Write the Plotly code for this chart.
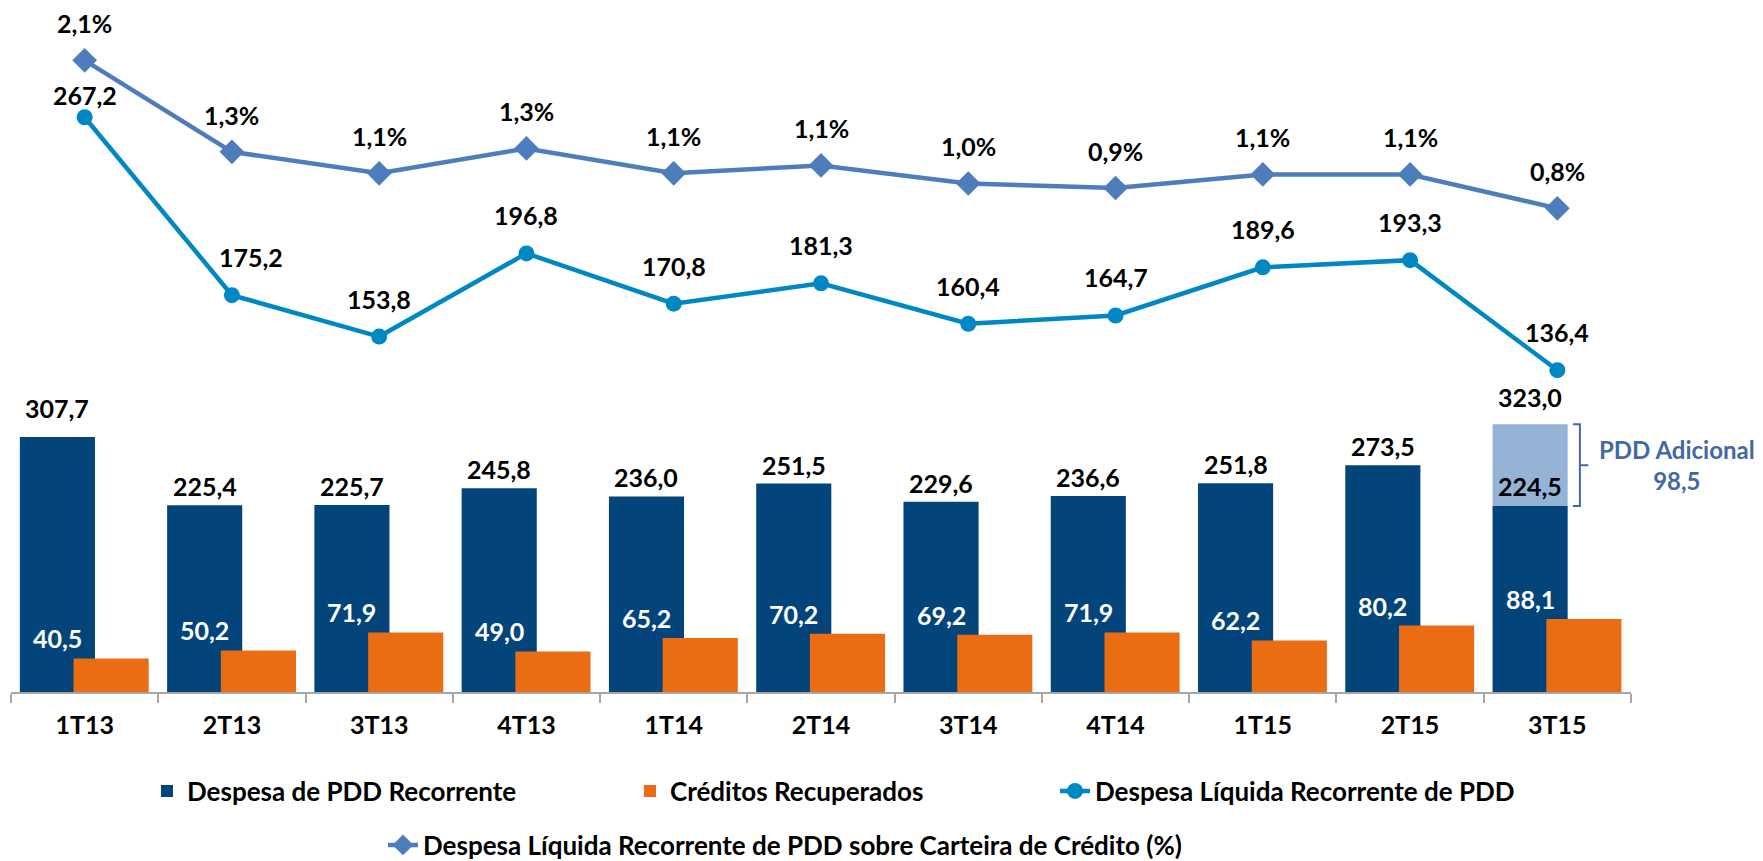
import plotly.graph_objects as go

# ---------------- data ----------------
categorias = ["1T13", "2T13", "3T13", "4T13", "1T14", "2T14", "3T14", "4T14", "1T15", "2T15", "3T15"]
despesa_pdd_recorrente = [307.7, 225.4, 225.7, 245.8, 236.0, 251.5, 229.6, 236.6, 251.8, 273.5, 224.5]
pdd_adicional_cat = ["3T15"]
pdd_adicional = [98.5]
creditos_recuperados = [40.5, 50.2, 71.9, 49.0, 65.2, 70.2, 69.2, 71.9, 62.2, 80.2, 88.1]
despesa_liquida = [267.2, 175.2, 153.8, 196.8, 170.8, 181.3, 160.4, 164.7, 189.6, 193.3, 136.4]
pct_carteira = [2.07, 1.26, 1.07, 1.29, 1.07, 1.14, 0.98, 0.94, 1.06, 1.06, 0.76]

# ---------------- styles ----------------
FONT = "Lato"
C_NAVY = "#03457A"
C_ORANGE = "#EA6C13"
C_LIGHT = "#95B3D7"
C_LINE = "#0088C4"
C_PCT = "#4E7DBC"
C_NOTE = "#4169A6"

# the page body has an 8px default margin: size the figure so it fits the window
BODY = 8
WIN_W, WIN_H = 1763, 861
W, H = WIN_W - BODY, WIN_H - BODY
# plot area in page pixels
P_LEFT, P_RIGHT, P_TOP, P_BOTTOM = 11, 1631, BODY, 692
ML = P_LEFT - BODY
MR = W - (P_RIGHT - BODY)
MT = P_TOP - BODY
MB = H - (P_BOTTOM - BODY)
PW = P_RIGHT - P_LEFT
PH = P_BOTTOM - P_TOP
CATW = PW / len(categorias)

BW = 0.51
OFF_NAVY = -0.44
OFF_ORANGE = -0.075
NAVY_CENTER_SHIFT = (OFF_NAVY + BW / 2) * CATW  # px

LAB_SIZE = 25

# axis scales (pixels per unit) and reference pixel anchors (page pixels)
BAR_PX_PER_UNIT = 0.8287
LINE_PX_PER_UNIT, LINE_ZERO_PX = 1.934, 634.0
PCT_PX_PER_UNIT, PCT_REF_VAL, PCT_REF_PX = 113.0, 0.94, 188.0

def br(v, dec=1):
    return f"{v:.{dec}f}".replace(".", ",")

def px_x(px):
    return (px - P_LEFT) / PW

def px_y(py):
    return (P_BOTTOM - py) / PH

fig = go.Figure()

fig.add_trace(go.Bar(
    x=categorias, y=despesa_pdd_recorrente, name="Despesa de PDD Recorrente",
    marker=dict(color=C_NAVY, line=dict(width=0)), offset=OFF_NAVY, width=BW,
    legend="legend", hoverinfo="skip"))
fig.add_trace(go.Bar(
    x=pdd_adicional_cat, y=pdd_adicional,
    base=[despesa_pdd_recorrente[categorias.index(c)] for c in pdd_adicional_cat],
    name="PDD Adicional", showlegend=False,
    marker=dict(color=C_LIGHT, line=dict(width=0)), offset=OFF_NAVY, width=BW,
    hoverinfo="skip"))
fig.add_trace(go.Bar(
    x=categorias, y=creditos_recuperados, name="Créditos Recuperados",
    marker=dict(color=C_ORANGE, line=dict(width=0)), offset=OFF_ORANGE, width=BW,
    legend="legend2", hoverinfo="skip"))
fig.add_trace(go.Scatter(
    x=categorias, y=despesa_liquida, yaxis="y2", mode="lines+markers",
    name="Despesa Líquida Recorrente de PDD",
    line=dict(color=C_LINE, width=4.5), marker=dict(symbol="circle", size=16, color=C_LINE),
    legend="legend3", hoverinfo="skip"))
fig.add_trace(go.Scatter(
    x=categorias, y=pct_carteira, yaxis="y3", mode="lines+markers",
    name="Despesa Líquida Recorrente de PDD sobre Carteira de Crédito (%)",
    line=dict(color=C_PCT, width=4.5), marker=dict(symbol="diamond", size=19, color=C_PCT),
    legend="legend4", hoverinfo="skip"))

ann = []
lab_font = dict(family=FONT, size=LAB_SIZE, color="black", weight="bold")
white_font = dict(family=FONT, size=LAB_SIZE, color="white", weight="bold")

# labels on the Despesa de PDD bars
for i, (c, v) in enumerate(zip(categorias, despesa_pdd_recorrente)):
    if c in pdd_adicional_cat:
        total = v + pdd_adicional[pdd_adicional_cat.index(c)]
        ann.append(dict(x=c, y=v, xref="x", yref="y", text=br(v), showarrow=False,
                        xshift=NAVY_CENTER_SHIFT, yshift=20, font=lab_font))
        ann.append(dict(x=c, y=total, xref="x", yref="y", text=br(total), showarrow=False,
                        xshift=NAVY_CENTER_SHIFT, yshift=27, font=lab_font))
    else:
        ys = 29 if i == 0 else 19
        ann.append(dict(x=c, y=v, xref="x", yref="y", text=br(v), showarrow=False,
                        xshift=NAVY_CENTER_SHIFT, yshift=ys, font=lab_font))

# white labels for Créditos Recuperados (drawn over the navy bars)
for c, v in zip(categorias, creditos_recuperados):
    ann.append(dict(x=c, y=v, xref="x", yref="y", text=br(v), showarrow=False,
                    xshift=NAVY_CENTER_SHIFT, yshift=20, font=white_font))

# line labels
line_nudge = {0: (0, 22), 1: (19, 38)}
for i, (c, v) in enumerate(zip(categorias, despesa_liquida)):
    xs, ys = line_nudge.get(i, (0, 38))
    ann.append(dict(x=c, y=v, xref="x", yref="y2", text=br(v), showarrow=False,
                    xshift=xs, yshift=ys, font=lab_font))
for c, v in zip(categorias, pct_carteira):
    ann.append(dict(x=c, y=v, xref="x", yref="y3", text=br(v) + "%", showarrow=False,
                    yshift=37, font=lab_font))

# PDD Adicional note + bracket
last = categorias.index(pdd_adicional_cat[0])
lo = despesa_pdd_recorrente[last]
hi = lo + pdd_adicional[0]
mid = (lo + hi) / 2
ann.append(dict(x=px_x(1677), y=mid, xref="paper", yref="y",
                text="PDD Adicional<br>" + br(pdd_adicional[0]), showarrow=False,
                xanchor="center", yanchor="middle",
                font=dict(family=FONT, size=24, color=C_NOTE, weight="bold")))
bx, bl, bt = last + 0.153, last + 0.106, last + 0.21
path = (f"M {bl},{hi} L {bx},{hi} L {bx},{mid} L {bt},{mid} L {bx},{mid} "
        f"L {bx},{lo} L {bl},{lo}")
shapes = [dict(type="path", path=path, xref="x", yref="y",
               line=dict(color=C_NOTE, width=2))]

leg_common = dict(orientation="h", xanchor="left", yanchor="middle", bgcolor="rgba(0,0,0,0)",
                  font=dict(family=FONT, size=26, color="black", weight="bold"),
                  itemwidth=30, borderwidth=0)

bar_range = [0, PH / BAR_PX_PER_UNIT]
line_range = [(LINE_ZERO_PX - P_BOTTOM) / LINE_PX_PER_UNIT, (LINE_ZERO_PX - P_TOP) / LINE_PX_PER_UNIT]
pct_range = [PCT_REF_VAL - (P_BOTTOM - PCT_REF_PX) / PCT_PX_PER_UNIT,
             PCT_REF_VAL + (PCT_REF_PX - P_TOP) / PCT_PX_PER_UNIT]

fig.update_layout(
    width=W, height=H, autosize=False,
    margin=dict(l=ML, r=MR, t=MT, b=MB, pad=0, autoexpand=False),
    paper_bgcolor="white", plot_bgcolor="white",
    barmode="overlay", showlegend=True,
    font=dict(family=FONT, size=24, color="black"),
    xaxis=dict(type="category", range=[-0.5, len(categorias) - 0.5], automargin=False,
               showline=True, linecolor="#A6A6A6", linewidth=2,
               ticks="outside", tickson="boundaries", ticklen=9, tickwidth=2, tickcolor="#A6A6A6",
               ticklabelstandoff=10,
               showgrid=False, zeroline=False,
               tickfont=dict(family=FONT, size=LAB_SIZE, color="black", weight="bold")),
    yaxis=dict(range=bar_range, visible=False, showgrid=False, zeroline=False, automargin=False),
    yaxis2=dict(range=line_range, overlaying="y", visible=False, showgrid=False,
                zeroline=False, automargin=False),
    yaxis3=dict(range=pct_range, overlaying="y", visible=False,
                showgrid=False, zeroline=False, automargin=False),
    legend=dict(x=px_x(147), y=px_y(791), **leg_common),
    legend2=dict(x=px_x(630), y=px_y(791), **leg_common),
    legend3=dict(x=px_x(1055), y=px_y(791), **leg_common),
    legend4=dict(x=px_x(383), y=px_y(845), **leg_common),
    annotations=ann, shapes=shapes,
)

fig.write_html("out.html")
